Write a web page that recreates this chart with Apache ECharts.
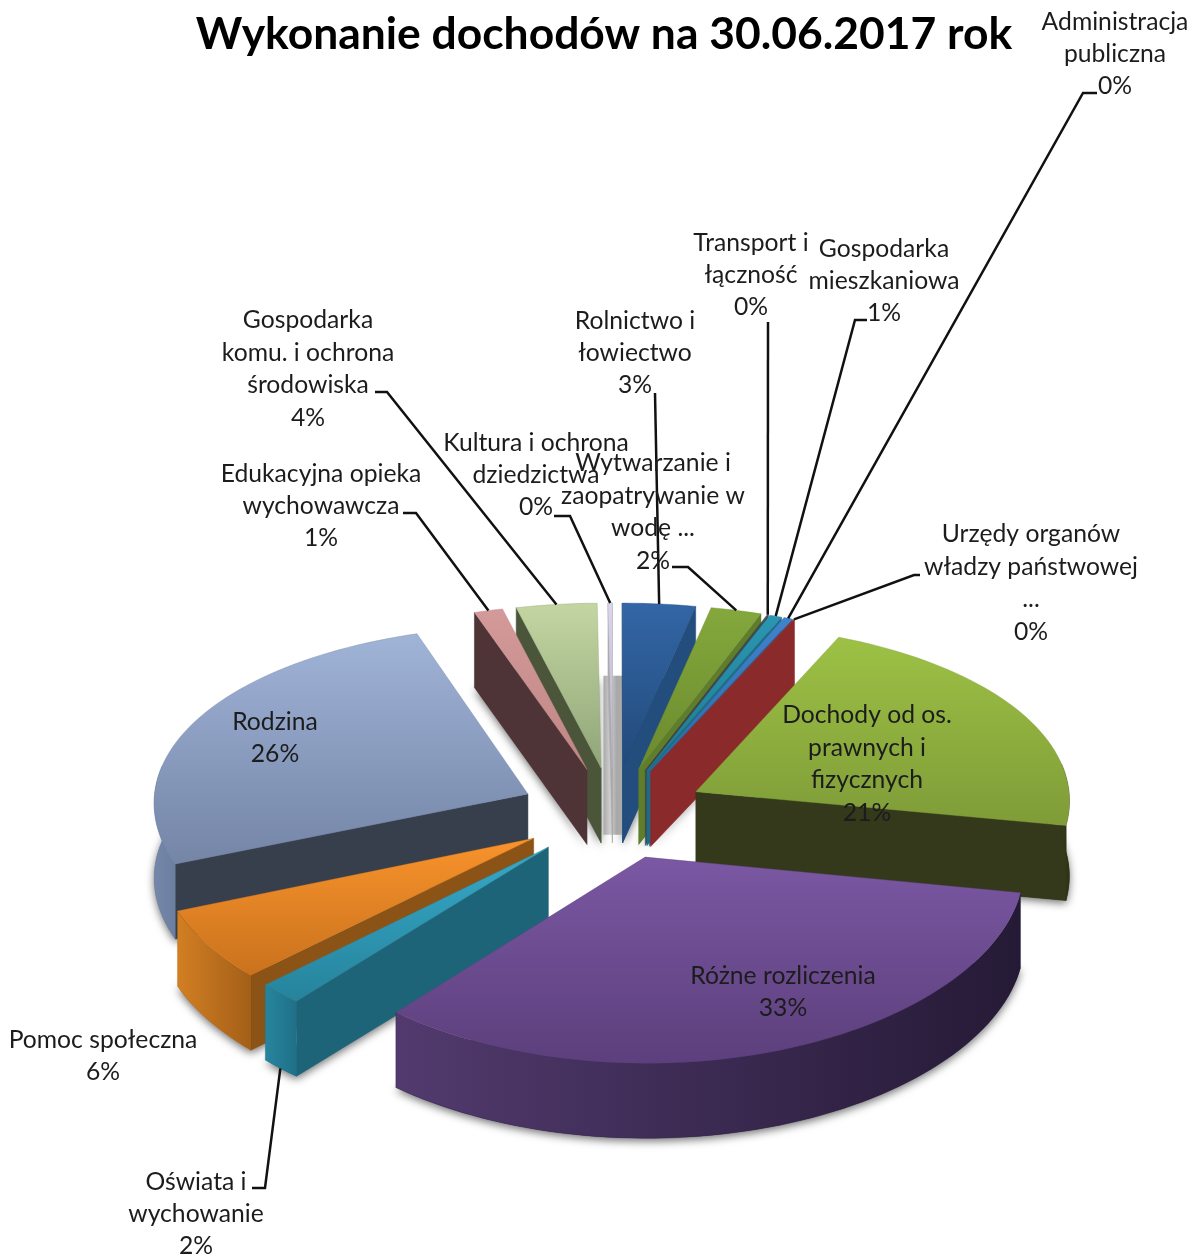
<!DOCTYPE html>
<html>
<head>
    <meta charset="utf-8">
    <title>Wykonanie dochodów</title>
    <style>html,body{margin:0;padding:0;background:#fff}</style>
</head>
<body>
    <div id="main" style="width:1200px;height:1260px"></div>
    <script src="https://cdn.jsdelivr.net/npm/echarts@6/dist/echarts.min.js"></script>
    <script type="text/javascript">
    // dane (udzial w %)
    var names = ['Rolnictwo i\nłowiectwo', 'Wytwarzanie i\nzaopatrywanie w\nwodę ...', 'Transport i\nłączność',
        'Gospodarka\nmieszkaniowa', 'Administracja\npubliczna', 'Urzędy organów\nwładzy państwowej\n...',
        'Dochody od os.\nprawnych i\nfizycznych', 'Różne rozliczenia', 'Oświata i\nwychowanie', 'Pomoc społeczna',
        'Rodzina', 'Edukacyjna opieka\nwychowawcza', 'Gospodarka\nkomu. i ochrona\nśrodowiska', 'Kultura i ochrona\ndziedzictwa'];
    var values = [3.3, 2.3, 0.05, 0.55, 0.4, 0.05, 21.3, 33.1, 1.8, 6.0, 26.0, 1.3, 3.65, 0.2];

    // kolory: gora jasna/ciemna, sciana boczna, luk lewy/prawy
    var topColors = [['#3366a6', '#224a7a'], ['#84a83c', '#6b8a2e'], ['#4a4f55', '#3a3f45'], ['#2a96b2', '#207a92'],
        ['#3f83cc', '#2f6aa8'], ['#a03030', '#8c2a2a'], ['#9dc145', '#7f9c38'], ['#7b58a3', '#5c3f7c'],
        ['#36a9c8', '#26839c'], ['#f9932c', '#c9721d'], ['#a0b4d8', '#7485a6'], ['#d49a9a', '#c08585'],
        ['#c3d6a2', '#90a578'], ['#dcd6ea', '#b8b2cc']];
    var wallColors = ['#234d7c', '#5f7d2a', '#3d4a4a', '#1f6d84', '#2a6096', '#8a2a2a', '#33391a', '#3a2a52',
        '#1e6478', '#8c5316', '#373e4c', '#4e3436', '#4b553a', '#ababab'];
    var arcColors = [['#234d7c', '#1e4168'], ['#5f7d2a', '#4e6a22'], ['#3d4a4a', '#3d4a4a'], ['#1f6d84', '#1f6d84'],
        ['#2a6096', '#2a6096'], ['#8a2a2a', '#8a2a2a'], ['#33391a', '#2e3416'], ['#523a6e', '#251a36'],
        ['#27859e', '#1f7088'], ['#d27f22', '#a45f18'], ['#7587a8', '#6d7fa0'], ['#8a6a6a', '#6e5050'],
        ['#78875e', '#677650'], ['#c8c8c8', '#ababab']];

    // polozenie podpisow (srodek tekstu) i ich linii odniesienia
    var labelPos = [[635, 353], [653, 512], [751, 275], [884, 281], [1115, 54], [1031, 583],
        [867, 764], [783, 992], [196, 1214], [103, 1056], [275, 738], [321, 506], [308, 369], [536, 475]];
    var leaders = [[[655, 393]], [[672, 567], [688, 567]], [[768, 322]], [[867, 320], [855, 320]], [[1097, 93], [1083, 93]],
        [[920, 575], [914, 575]], null, null, [[252, 1188], [265, 1188]], null, null,
        [[403, 513], [416, 513]], [[375, 392], [387, 392]], [[554, 516], [570, 516]]];

    var cx = 613, cy = 813, R = 375, explode = 94, tilt = 0.49, depthY = 5000, depthX = 9000, thick = 75;

    var total = values.reduce(function (a, b) { return a + b; }, 0);
    var slices = [];
    var acc = 0;
    values.forEach(function (v, i) {
        var a0 = acc / total * Math.PI * 2;
        acc += v;
        var a1 = acc / total * Math.PI * 2;
        slices.push({ i: i, a0: a0, a1: a1, mid: (a0 + a1) / 2 });
    });
    // rysujemy od tylu do przodu
    var order = slices.slice().sort(function (a, b) { return Math.cos(b.mid) - Math.cos(a.mid); });

    function proj(x, y, bottom) {
        return [cx + x * depthX / (depthX + y), cy - y * tilt * depthY / (depthY + y) + (bottom ? thick : 0)];
    }
    function rimPoint(sl, a, bottom) {
        var ex = explode * Math.sin(sl.mid), ey = explode * Math.cos(sl.mid);
        return proj(ex + R * Math.sin(a), ey + R * Math.cos(a), bottom);
    }
    function apexPoint(sl, bottom) {
        return proj(explode * Math.sin(sl.mid), explode * Math.cos(sl.mid), bottom);
    }
    function arcPoints(sl, a0, a1, bottom) {
        var n = Math.max(2, Math.ceil((a1 - a0) / 0.03));
        var pts = [];
        for (var k = 0; k <= n; k++) pts.push(rimPoint(sl, a0 + (a1 - a0) * k / n, bottom));
        return pts;
    }
    function grad(x, y, x2, y2, c) {
        return { type: 'linear', x: x, y: y, x2: x2, y2: y2, global: true,
            colorStops: c.map(function (col, k) { return { offset: k / (c.length - 1), color: col }; }) };
    }

    function renderSlice(params) {
        var rank = params.dataIndex;
        var sl = order[rank];
        var i = sl.i;
        var z = 10 + rank * 5;
        var kids = [];
        var apexT = apexPoint(sl, false), apexB = apexPoint(sl, true);
        var topPts = [apexT].concat(arcPoints(sl, sl.a0, sl.a1, false));

        // cien pod spodem
        kids.push({ type: 'polygon', z2: 1, shape: { points: [apexB].concat(arcPoints(sl, sl.a0, sl.a1, true)) },
            style: { fill: arcColors[i][0], shadowBlur: 9, shadowOffsetY: 3, shadowColor: 'rgba(0,0,0,0.55)' } });

        // szary pas za najwezszym wycinkiem (Kultura)
        if (values[i] < 0.3 && i === values.length - 1) {
            kids.push({ type: 'polygon', z2: 2, shape: { points: [
                [apexT[0] - 9, apexT[1] - 92], [apexT[0] + 11, apexT[1] - 92],
                [apexT[0] + 11, apexB[1] - 8], [apexT[0] - 9, apexB[1] - 8]] },
                style: { fill: grad(apexT[0] - 9, 0, apexT[0] + 11, 0, ['#a8a8a8', '#cfcfcf', '#a8a8a8', '#adadad']) } });
        }

        // sciany promieniowe - tylko te widoczne
        [[sl.a0, -1], [sl.a1, 1]].forEach(function (w) {
            var rt = rimPoint(sl, w[0], false), rb = rimPoint(sl, w[0], true);
            if ((rt[0] - apexT[0]) * w[1] > 0) {
                kids.push({ type: 'polygon', z2: z, shape: { points: [apexT, rt, rb, apexB] },
                    style: { fill: wallColors[i], stroke: wallColors[i], lineWidth: 0.5 } });
            }
        });

        // luk - tylko przednia czesc
        var f0 = Math.max(sl.a0, Math.PI * 0.45), f1 = Math.min(sl.a1, Math.PI * 1.55);
        if (f1 > f0) {
            var up = arcPoints(sl, f0, f1, false);
            var down = arcPoints(sl, f0, f1, true).reverse();
            var xs = up.map(function (p) { return p[0]; });
            var xMin = Math.min.apply(null, xs), xMax = Math.max.apply(null, xs);
            kids.push({ type: 'polygon', z2: z + 1, shape: { points: up.concat(down) },
                style: { fill: grad(xMin, 0, xMax, 0, arcColors[i]), stroke: arcColors[i][1], lineWidth: 0.3 } });
        }

        var ys = topPts.map(function (p) { return p[1]; });
        kids.push({ type: 'polygon', z2: z + 2, shape: { points: topPts },
            style: { fill: grad(0, Math.min.apply(null, ys), 0, Math.max.apply(null, ys), topColors[i]),
                stroke: topColors[i][1], lineWidth: 0.4 } });
        return { type: 'group', children: kids };
    }

    function renderLabel(params) {
        var i = params.dataIndex;
        var sl = slices[i];
        var kids = [];
        if (leaders[i]) {
            // Oswiata: linia dochodzi do dolnej krawedzi
            var end = rimPoint(sl, sl.mid, names[i].indexOf('Oświata') === 0);
            kids.push({ type: 'polyline', z2: 200, shape: { points: leaders[i].concat([end]) },
                style: { stroke: '#111', lineWidth: 2.5, fill: null } });
        }
        kids.push({ type: 'text', z2: 210, style: {
            text: names[i] + '\n' + Math.round(values[i]) + '%',
            x: labelPos[i][0], y: labelPos[i][1], align: 'center', verticalAlign: 'middle',
            fontFamily: 'Lato', fontSize: 24.7, lineHeight: 32.4, fill: '#1c1c1c' } });
        return { type: 'group', children: kids };
    }

    var myChart = echarts.init(document.getElementById('main'));
    var option = {
        animation: false,
        backgroundColor: '#fff',
        title: {
            text: 'Wykonanie dochodów na 30.06.2017 rok',
            left: 599, top: 8, textAlign: 'center',
            textStyle: { fontFamily: 'Lato', fontSize: 44.4, fontWeight: 'bold', color: '#000' }
        },
        tooltip: { show: false },
        series: [
            { type: 'custom', coordinateSystem: 'none', silent: true, renderItem: renderSlice,
              data: order.map(function (s) { return values[s.i]; }) },
            { type: 'custom', coordinateSystem: 'none', silent: true, z: 5, renderItem: renderLabel, data: values }
        ]
    };
    myChart.setOption(option);
    </script>
</body>
</html>
